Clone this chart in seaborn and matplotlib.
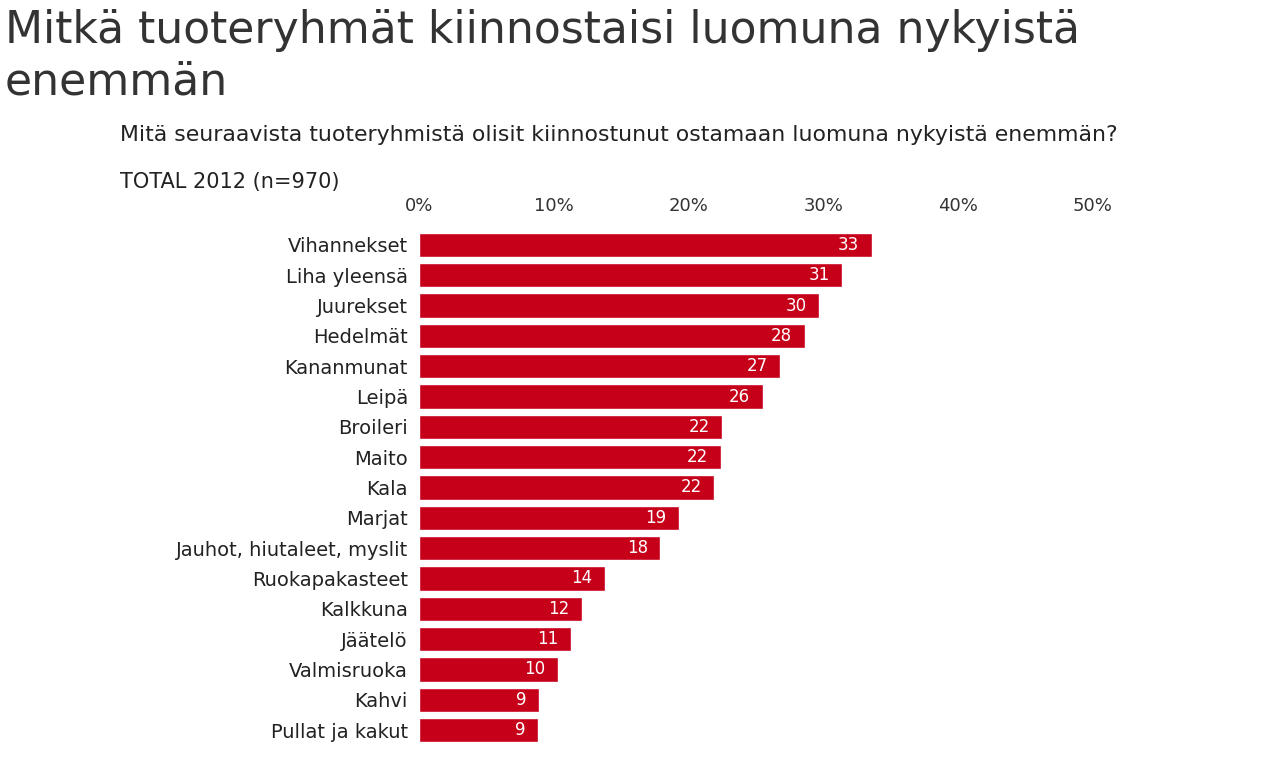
import matplotlib
matplotlib.use("Agg")
import matplotlib.pyplot as plt
import seaborn as sns
import pandas as pd

categories = ["Vihannekset", "Liha yleensä", "Juurekset", "Hedelmät", "Kananmunat",
              "Leipä", "Broileri", "Maito", "Kala", "Marjat",
              "Jauhot, hiutaleet, myslit", "Ruokapakasteet", "Kalkkuna", "Jäätelö",
              "Valmisruoka", "Kahvi", "Pullat ja kakut"]
values = [33.6, 31.4, 29.7, 28.6, 26.8, 25.5, 22.5, 22.4, 21.9, 19.3,
          17.9, 13.8, 12.1, 11.3, 10.3, 8.9, 8.8]
labels = [33, 31, 30, 28, 27, 26, 22, 22, 22, 19, 18, 14, 12, 11, 10, 9, 9]
xticks = [0, 10, 20, 30, 40, 50]
xticklabels = ["0%", "10%", "20%", "30%", "40%", "50%"]

title = "Mitkä tuoteryhmät kiinnostaisi luomuna nykyistä\nenemmän"
subtitle = "Mitä seuraavista tuoteryhmistä olisit kiinnostunut ostamaan luomuna nykyistä enemmän?"
note = "TOTAL 2012 (n=970)"

sns.set_theme(style="white")
plt.rcParams['font.family'] = ['DejaVu Sans']
plt.rcParams['font.sans-serif'] = ['DejaVu Sans']
FONT = "DejaVu Sans"

df = pd.DataFrame({"cat": categories, "val": values})

fig = plt.figure(figsize=(12.86, 7.68), dpi=100)
ax = fig.add_axes([419/1286, 1-745.2/768, (1093-419)/1286, (745.2-229.8)/768])
sns.barplot(data=df, x="val", y="cat", color="#C7001A", saturation=1, width=0.8, ax=ax)
ax.set_xlim(0, 50)
ax.set_xlabel("")
ax.set_ylabel("")
ax.xaxis.tick_top()
ax.set_xticks(xticks)
ax.set_xticklabels(xticklabels, fontsize=13, color="#333333", family=FONT)
ax.set_yticks(range(len(categories)))
ax.set_yticklabels(categories, fontsize=14, color="#222222", family=FONT)
ax.tick_params(axis="x", length=0, pad=11)
ax.tick_params(axis="y", length=0, pad=8)
for s in ax.spines.values():
    s.set_visible(False)

for i, (v, lab) in enumerate(zip(values, labels)):
    ax.annotate(str(lab), xy=(v, i), xytext=(-9, 0), textcoords="offset points",
                ha="right", va="center", color="white", fontsize=12,
                family=FONT)

fig.text(5/1286, 1-9/768, title, ha="left", va="top", fontsize=31.8, color="#333333",
         family=FONT, linespacing=1.25)
fig.text(120/1286, 1-135/768, subtitle, ha="left", va="center", fontsize=15.8,
         color="#222222", family=FONT)
fig.text(120/1286, 1-182/768, note, ha="left", va="center", fontsize=15,
         color="#222222", family=FONT)

fig.savefig("out.png", dpi=100)
